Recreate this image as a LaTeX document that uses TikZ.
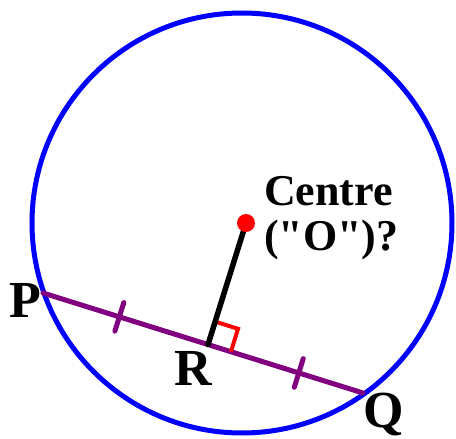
\documentclass[tikz,border=0pt]{standalone}
\usepackage{fontspec}
\newfontfamily\plainserif{Liberation Serif}
\usetikzlibrary{calc}
\definecolor{chordpurple}{RGB}{128,0,128}
\begin{document}
\begin{tikzpicture}[x=1pt,y=-1pt,line cap=round,
  circ/.style={draw=blue,line width=5pt},
  chord/.style={draw=chordpurple,line width=5pt},
  radius line/.style={draw=black,line width=5.5pt},
  rightmark/.style={draw=red,line width=4pt,line cap=butt},
  centredot/.style={circle,fill=red,inner sep=0pt,minimum size=18pt},
  lbl/.style={inner sep=0pt,font=\plainserif\fontsize{52}{52}\selectfont\bfseries},
  note/.style={inner sep=0pt,anchor=base west,font=\plainserif\fontsize{44}{44}\selectfont\bfseries}]
\useasboundingbox (0,0) rectangle (456,439);
\coordinate (O) at (242,223);
\draw[circ] (O) circle[radius=210];
\coordinate (P) at (43,293);
\coordinate (Q) at (363,393);
\draw[chord] (P) -- (Q);
\coordinate (Cc) at (246,223);
\coordinate (R) at ($(P)!(Cc)!(Q)$);
% ticks
\coordinate (T1) at ($(P)!80pt!(Q)$);
\coordinate (T2) at ($(P)!268pt!(Q)$);
\draw[chord] ($(T1)!15pt!90:(Q)$) -- ($(T1)!15pt!-90:(Q)$);
\draw[chord] ($(T2)!15pt!90:(Q)$) -- ($(T2)!15pt!-90:(Q)$);
% right angle
\coordinate (RA) at ($(R)!24pt!(Cc)$);
\coordinate (RB) at ($(R)!24pt!(Q)$);
\draw[rightmark] (RA) -- ($(RA)+(RB)-(R)$) -- (RB);
\draw[radius line] (Cc) -- (R);
\node[centredot] (C) at (Cc) {};
% labels
\node[lbl,anchor=base] (lP) at (25,317) {P};
\node[lbl,anchor=base] (lR) at (193,385) {R};
\node[lbl,anchor=base] (lQ) at (384,427) {Q};
\node[note] (n1) at (264,205) {Centre};
\node[note] (n2) at (264,250) {("O")?};
\end{tikzpicture}
\end{document}
